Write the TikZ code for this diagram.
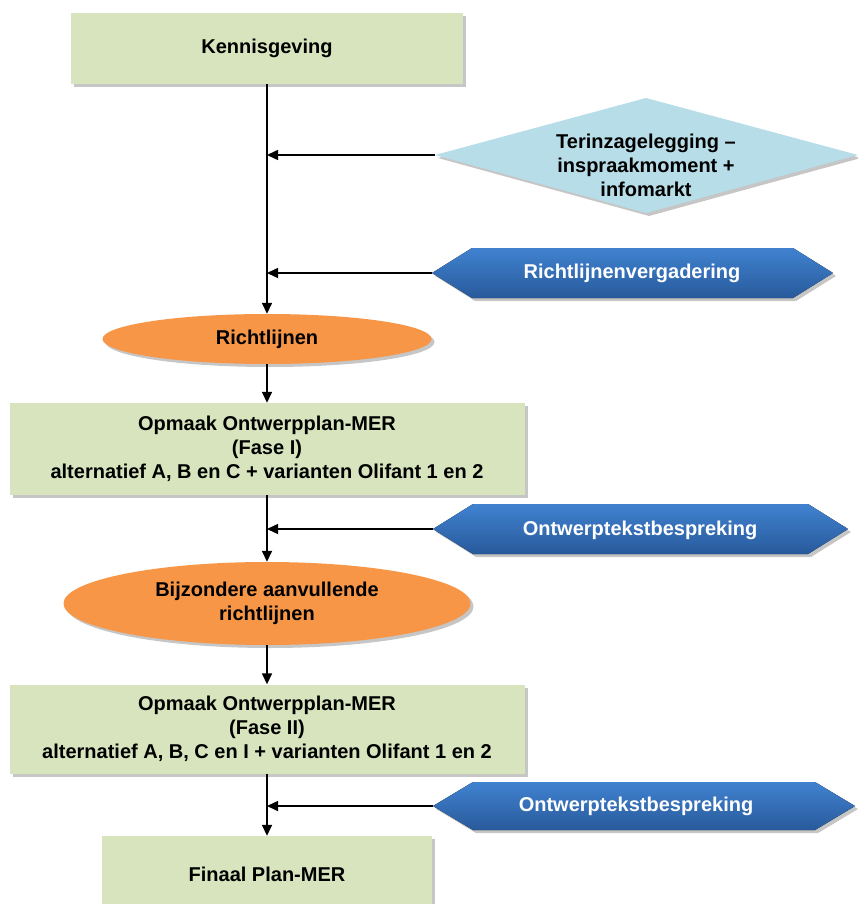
\documentclass[tikz,border=0pt]{standalone}
\usepackage{fontspec}
\setmainfont{Liberation Sans}
\usetikzlibrary{shapes.geometric,shadows,arrows.meta}
\definecolor{boxgreen}{HTML}{D7E4BD}
\definecolor{ellorange}{HTML}{F79646}
\definecolor{diablue}{HTML}{B7DDE8}
\definecolor{hextop}{RGB}{64,130,208}
\definecolor{hexbot}{RGB}{40,90,155}
\begin{document}
\begin{tikzpicture}[x=1pt,y=-1pt,
  txt/.style={font=\fontsize{20}{24}\selectfont\bfseries, align=center},
  shad/.style={drop shadow={shadow xshift=3pt, shadow yshift=-3pt, fill=black!50, opacity=0.45}},
  greenbox/.style={txt, shad, fill=boxgreen, inner sep=0pt},
  orangeell/.style={txt, shad, ellipse, fill=ellorange, inner sep=0pt},
  hexshape/.style={shad, top color=hextop, bottom color=hexbot, draw=none},
  whitetxt/.style={txt, text=white},
  arr/.style={line width=1.5pt, -{Triangle[length=11pt,width=10pt]}},
]
\useasboundingbox (0,0) rectangle (858,904);

% main column nodes
\node[greenbox, minimum width=392pt, minimum height=71pt] (kg) at (267,48.5) {Kennisgeving};
\node[orangeell, minimum width=329pt, minimum height=50pt] (rl) at (267,339) {Richtlijnen};
\node[greenbox, minimum width=515pt, minimum height=92pt] (om1) at (267,449)
  {Opmaak Ontwerpplan-MER\\(Fase I)\\alternatief A, B en C + varianten Olifant 1 en 2};
\node[orangeell, minimum width=407pt, minimum height=83pt] (bar) at (267,603.5)
  {Bijzondere aanvullende\\richtlijnen};
\node[greenbox, minimum width=515pt, minimum height=89pt] (om2) at (267,729)
  {Opmaak Ontwerpplan-MER\\(Fase II)\\alternatief A, B, C en I + varianten Olifant 1 en 2};
\node[greenbox, minimum width=330pt, minimum height=76pt] (fin) at (267,874) {Finaal Plan-MER};

% diamond
\fill[diablue, shad] (435,155) -- (646,98) -- (858,155) -- (646,213) -- cycle;
\coordinate (dL) at (435,155);
\node[txt] (ter) at (646,165) {Terinzagelegging –\\inspraakmoment +\\infomarkt};

% hexagons
\fill[hexshape] (432,273) -- (472,248) -- (793,248) -- (833,273) -- (793,298) -- (472,298) -- cycle;
\coordinate (h1L) at (432,273);
\node[whitetxt] (rv) at (632,273) {Richtlijnenvergadering};

\fill[hexshape] (433,529) -- (473,504) -- (808,504) -- (848,529) -- (808,554) -- (473,554) -- cycle;
\coordinate (h2L) at (433,529);
\node[whitetxt] (otb1) at (640,530) {Ontwerptekstbespreking};

\fill[hexshape] (433,806) -- (473,782) -- (815,782) -- (855,806) -- (815,830) -- (473,830) -- cycle;
\coordinate (h3L) at (433,806);
\node[whitetxt] (otb2) at (636,806) {Ontwerptekstbespreking};

% vertical connectors
\draw[arr] (kg.south) -- (rl.north);
\draw[arr] (rl.south) -- (om1.north);
\draw[arr] (om1.south) -- (bar.north);
\draw[arr] (bar.south) -- (om2.north);
\draw[arr] (om2.south) -- (fin.north);

% horizontal connectors
\draw[arr] (dL) -- (dL -| kg.south);
\draw[arr] (h1L) -- (h1L -| kg.south);
\draw[arr] (h2L) -- (h2L -| om1.south);
\draw[arr] (h3L) -- (h3L -| om2.south);
\end{tikzpicture}
\end{document}
